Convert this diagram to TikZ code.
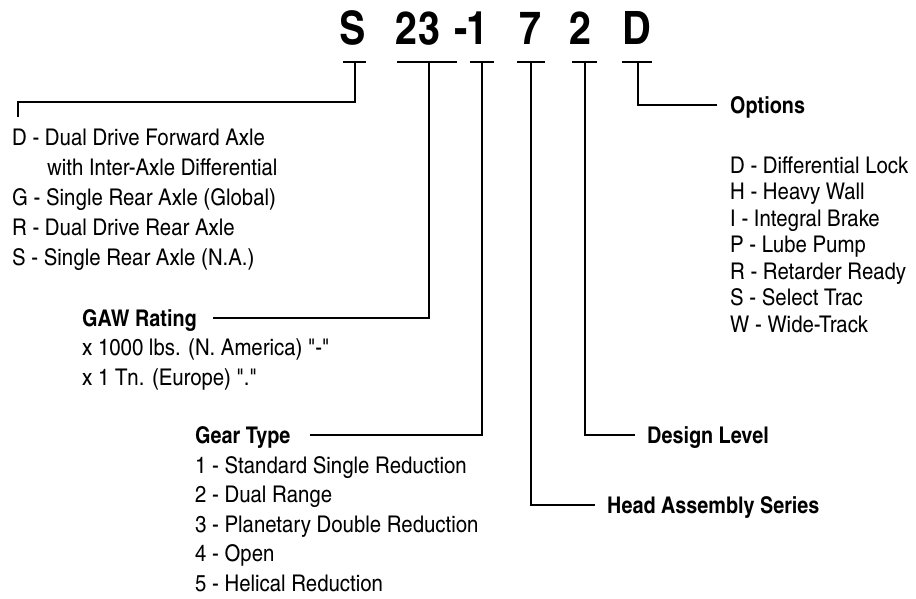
\documentclass[tikz,border=0pt]{standalone}
\usepackage{fontspec}
\setmainfont{texgyreheroscn}[Extension=.otf,UprightFont=*-regular,BoldFont=*-bold,Ligatures=TeXOff,
  UprightFeatures={FakeStretch=1.08},BoldFeatures={FakeStretch=1.05}]
\usetikzlibrary{positioning}

\begin{document}
\begin{tikzpicture}[x=1pt,y=-1pt,
    code/.style={font=\fontsize{46}{46}\selectfont\bfseries,inner sep=0pt,anchor=base},
    head/.style={font=\fontsize{23}{28}\selectfont\bfseries,inner sep=0pt,anchor=west,text height=16.5pt,text depth=0pt},
    list/.style={font=\fontsize{23}{30}\selectfont,inner sep=0pt,anchor=base west,align=left},
    lead/.style={line width=1.8pt}]
   \useasboundingbox (0,0) rectangle (916,598);
   % model number
   \node[code] (cS)    at (353,44) {S};
   \node[code] (c23)   at (418,44) {23};
   \node[code] (cDash) at (461,44) {-};
   \node[code] (c1)    at (478,44) {1};
   \node[code] (c7)    at (531,44) {7};
   \node[code] (c2)    at (581,44) {2};
   \node[code] (cD)    at (637,44) {D};
   \foreach \a/\b in {343/366,397/457,470/494,517/545,572/597,622/652}
      \draw[lead] (\a,62) -- (\b,62);
   \coordinate (tS) at (355,62);
   \coordinate (t23) at (429,62);
   \coordinate (t1) at (482,62);
   \coordinate (t7) at (531,62);
   \coordinate (t2) at (585,62);
   \coordinate (tD) at (638,62);
   % headings
   \node[head] (hOpt)    at (730,105) {Options};
   \node[head] (hDesign) at (647,435) {Design Level};
   \node[head] (hHead)   at (607,505) {Head Assembly Series};
   \node[head] (hGear)   at (195,435) {Gear Type};
   \node[head] (hGAW)    at (82,318)  {GAW Rating};
   % lists (base = last line)
   \coordinate (eS) at (18,117);
   \node[list] (lS) at (12,265) {D - Dual Drive Forward Axle\\\hspace*{35pt}with Inter-Axle Differential\\G - Single Rear Axle (Global)\\R - Dual Drive Rear Axle\\S - Single Rear Axle (N.A.)};
   \node[list] (lGAW) at (82,385) {x 1000 lbs. (N. America) "-"\\x 1 Tn. (Europe) "."};
   \node[list,font=\fontsize{23}{29.5}\selectfont] (lGear) at (195,591) {1 - Standard Single Reduction\\2 - Dual Range\\3 - Planetary Double Reduction\\4 - Open\\5 - Helical Reduction};
   \node[list,font=\fontsize{23}{26.5}\selectfont] (lOpt) at (730,332) {D - Differential Lock\\H - Heavy Wall\\I - Integral Brake\\P - Lube Pump\\R - Retarder Ready\\S - Select Trac\\W - Wide-Track};
   % leaders
   \draw[lead] (tS) -- ++(0,40) -| (eS);
   \draw[lead] (t23) |- ([xshift=16pt]hGAW.east);
   \draw[lead] (t1) |- ([xshift=19pt]hGear.east);
   \draw[lead] (t7) |- ([xshift=-12pt]hHead.west);
   \draw[lead] (t2) |- ([xshift=-12pt]hDesign.west);
   \draw[lead] (tD) |- ([xshift=-13pt]hOpt.west);
\end{tikzpicture}
\end{document}
